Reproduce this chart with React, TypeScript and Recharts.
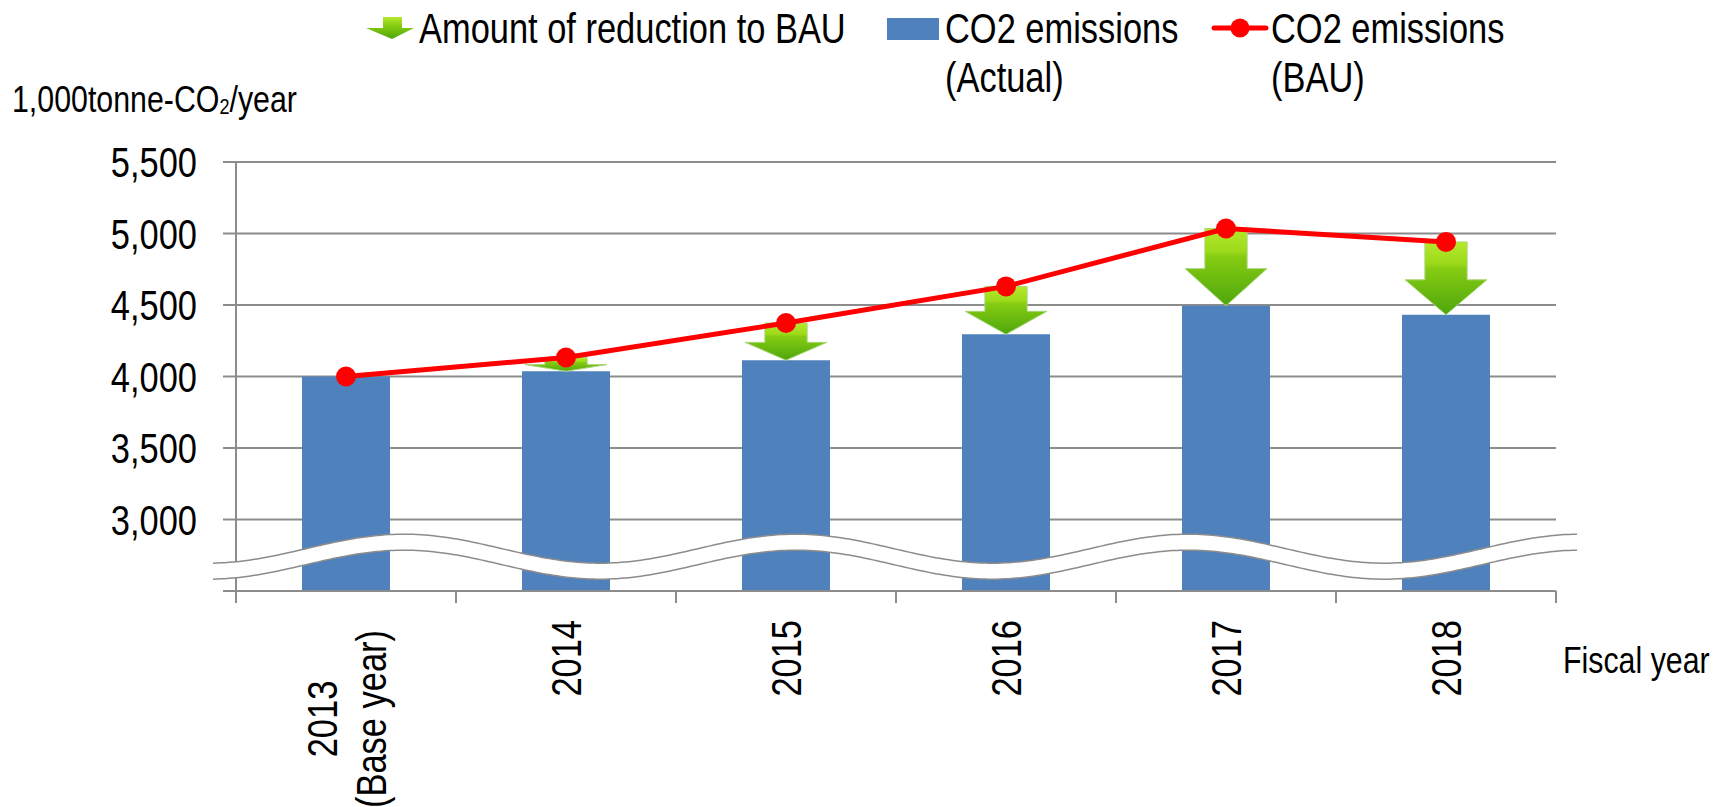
import React from 'react';
import { ComposedChart, Bar, Line, XAxis, YAxis, CartesianGrid } from 'recharts';

const categories = ['2013\n(Base year)', '2014', '2015', '2016', '2017', '2018'];
const actualValues = [4000, 4037, 4114, 4295, 4495, 4432];
const bauValues = [4000, 4133, 4374, 4630, 5035, 4941];
const yTicks = [2500, 3000, 3500, 4000, 4500, 5000, 5500];

const data = categories.map((year, i) => ({
  year,
  actual: actualValues[i],
  bau: bauValues[i],
  reduction: bauValues[i] - actualValues[i],
}));

const W = 1713;
const H = 807;
const M = { top: 162, right: 157, bottom: 0, left: 0 };
const Y_AXIS_W = 236;
const X_AXIS_H = 216;
const PLOT_W = W - M.left - M.right - Y_AXIS_W;
const PLOT_H = H - M.top - M.bottom - X_AXIS_H;
const BAND = PLOT_W / categories.length;
const Y_MIN = 2500;
const Y_MAX = 5500;

// no narrow font installed, so squeeze Liberation Sans horizontally
const FONT = "'Liberation Sans', Arial, sans-serif";
const SQUEEZE = 0.82;
const GREY = '#8c8c8c';
const BLUE = '#4f81bd';
const RED = '#ff0000';

let ctx: CanvasRenderingContext2D | null = null;
const textWidth = (s: string, size: number) => {
  if (!ctx) ctx = document.createElement('canvas').getContext('2d');
  if (!ctx) return s.length * size * 0.5 * SQUEEZE;
  ctx.font = `${size}px ${FONT}`;
  return ctx.measureText(s).width * SQUEEZE;
};

const NText = ({ x, y, size, anchor = 'start', rotate = 0, dy, children }: any) => (
  <text
    transform={`translate(${x},${y}) rotate(${rotate}) scale(${SQUEEZE},1)`}
    dy={dy}
    textAnchor={anchor}
    fontSize={size}
    fontFamily={FONT}
    fill="#000"
  >
    {children}
  </text>
);

const YTick = ({ x, y, payload }: any) => (
  <NText x={x} y={y} dy="0.36em" anchor="end" size={42}>
    {payload.value === Y_MIN ? '' : payload.value.toLocaleString('en-US')}
  </NText>
);

const XTick = ({ x, y, payload, index }: any) => {
  const lines = String(payload.value).split('\n');
  const n = lines.length;
  const maxLen = Math.max(...lines.map((l) => textWidth(l, 42)));
  const single = n === 1;
  const pos = single ? y + 29 : y + 39 + maxLen / 2;
  return (
    <g>
      <line x1={x - BAND / 2} x2={x - BAND / 2} y1={y} y2={y + 12} stroke={GREY} strokeWidth={2} />
      {index === categories.length - 1 && (
        <line x1={x + BAND / 2} x2={x + BAND / 2} y1={y} y2={y + 12} stroke={GREY} strokeWidth={2} />
      )}
      {lines.map((l, i) => (
        <NText
          key={i}
          x={x + (i - (n - 1) / 2) * 49}
          y={pos}
          rotate={-90}
          dy="0.36em"
          anchor={single ? 'end' : 'middle'}
          size={42}
        >
          {l}
        </NText>
      ))}
    </g>
  );
};

const ArrowGradient = ({ id }: { id: string }) => (
  <defs>
    <linearGradient id={id} x1="0" y1="0" x2="0" y2="1">
      <stop offset="0" stopColor="#b6e82c" />
      <stop offset="0.3" stopColor="#9cda1a" />
      <stop offset="0.36" stopColor="#86cc12" />
      <stop offset="1" stopColor="#4ea60c" />
    </linearGradient>
  </defs>
);

const ReductionArrow = (props: any) => {
  const { x, y, width, height, index } = props;
  if (!height || height < 1) return null;
  const cx = x + width / 2;
  const headW = width * 0.93;
  const shaftW = width * 0.48;
  const neck = y + height - height * 0.48;
  const tip = y + height;
  const id = `arrowGrad${index}`;
  const pts = [
    [cx - shaftW / 2, y],
    [cx + shaftW / 2, y],
    [cx + shaftW / 2, neck],
    [cx + headW / 2, neck],
    [cx, tip],
    [cx - headW / 2, neck],
    [cx - shaftW / 2, neck],
  ]
    .map((p) => p.join(','))
    .join(' ');
  return (
    <g>
      <ArrowGradient id={id} />
      <polygon points={pts} fill={`url(#${id})`} stroke="#a9d67a" strokeWidth={1} />
    </g>
  );
};

// axis break drawn over the lower part of the plot
const py = (v: number) => M.top + ((Y_MAX - v) / (Y_MAX - Y_MIN)) * PLOT_H;
const BreakWave = () => {
  const yc = py(2796);
  const amp = 14.5;
  const gap = 16;
  const x0 = 213;
  const x1 = 1579;
  const upper: number[][] = [];
  for (let x = x0; x <= x1; x += 4) {
    upper.push([x, yc - amp * Math.cos((2 * Math.PI * (x - 404)) / 392)]);
  }
  const lower = upper.map(([x, yy]) => [x, yy + gap]);
  const toPath = (pts: number[][]) => pts.map((p, i) => `${i ? 'L' : 'M'}${p[0]},${p[1]}`).join(' ');
  const band = toPath(upper) + ' ' + lower.slice().reverse().map((p) => `L${p[0]},${p[1]}`).join(' ') + ' Z';
  return (
    <g>
      <path d={band} fill="#fff" stroke="none" />
      <path d={toPath(upper)} fill="none" stroke={GREY} strokeWidth={1.5} />
      <path d={toPath(lower)} fill="none" stroke={GREY} strokeWidth={1.5} />
    </g>
  );
};

const LegendAndTitles = () => (
  <g>
    <defs>
      <linearGradient id="legendArrow" x1="0" y1="0" x2="0" y2="1">
        <stop offset="0" stopColor="#b6e82c" />
        <stop offset="0.4" stopColor="#86cc12" />
        <stop offset="1" stopColor="#4ea60c" />
      </linearGradient>
    </defs>
    <polygon points="383,17 402,17 402,28 414,28 392,39 366,28 383,28" fill="url(#legendArrow)" />
    <NText x={419} y={43} size={42}>Amount of reduction to BAU</NText>

    <rect x={887} y={18} width={52} height={22} fill={BLUE} />
    <NText x={945} y={43} size={42}>CO2 emissions</NText>
    <NText x={945} y={92} size={42}>(Actual)</NText>

    <line x1={1214} x2={1266} y1={28} y2={28} stroke={RED} strokeWidth={5} strokeLinecap="round" />
    <circle cx={1240} cy={28} r={9.5} fill={RED} />
    <NText x={1271} y={43} size={42}>CO2 emissions</NText>
    <NText x={1271} y={92} size={42}>(BAU)</NText>

    <NText x={12} y={112} size={37}>
      1,000tonne-CO<tspan fontSize={22} dy={2}>2</tspan>
      <tspan dy={-2}>/year</tspan>
    </NText>
    <NText x={1563} y={673} size={37}>Fiscal year</NText>
  </g>
);

export default function App() {
  return (
    <div style={{ position: 'absolute', left: 0, top: 0, width: W, height: H, background: '#fff' }}>
      <ComposedChart width={W} height={H} data={data} margin={M}>
        <CartesianGrid vertical={false} stroke={GREY} strokeWidth={2} />
        <XAxis
          dataKey="year"
          height={X_AXIS_H}
          axisLine={{ stroke: GREY, strokeWidth: 2 }}
          tickLine={false}
          tickSize={0}
          tickMargin={0}
          interval={0}
          tick={<XTick />}
        />
        <YAxis
          width={Y_AXIS_W}
          domain={[Y_MIN, Y_MAX]}
          ticks={yTicks}
          allowDataOverflow
          axisLine={{ stroke: GREY, strokeWidth: 2 }}
          tickLine={{ stroke: GREY, strokeWidth: 2 }}
          tickSize={13}
          tickMargin={26}
          tick={<YTick />}
        />
        <Bar dataKey="actual" stackId="s" fill={BLUE} barSize={88} isAnimationActive={false} />
        <Bar dataKey="reduction" stackId="s" barSize={88} shape={<ReductionArrow />} isAnimationActive={false} />
        <Line
          type="linear"
          dataKey="bau"
          stroke={RED}
          strokeWidth={5}
          dot={{ r: 10, fill: RED, stroke: RED, strokeWidth: 0 }}
          activeDot={false}
          isAnimationActive={false}
        />
      </ComposedChart>
      <svg width={W} height={H} style={{ position: 'absolute', left: 0, top: 0, pointerEvents: 'none' }}>
        <BreakWave />
        <LegendAndTitles />
      </svg>
    </div>
  );
}
